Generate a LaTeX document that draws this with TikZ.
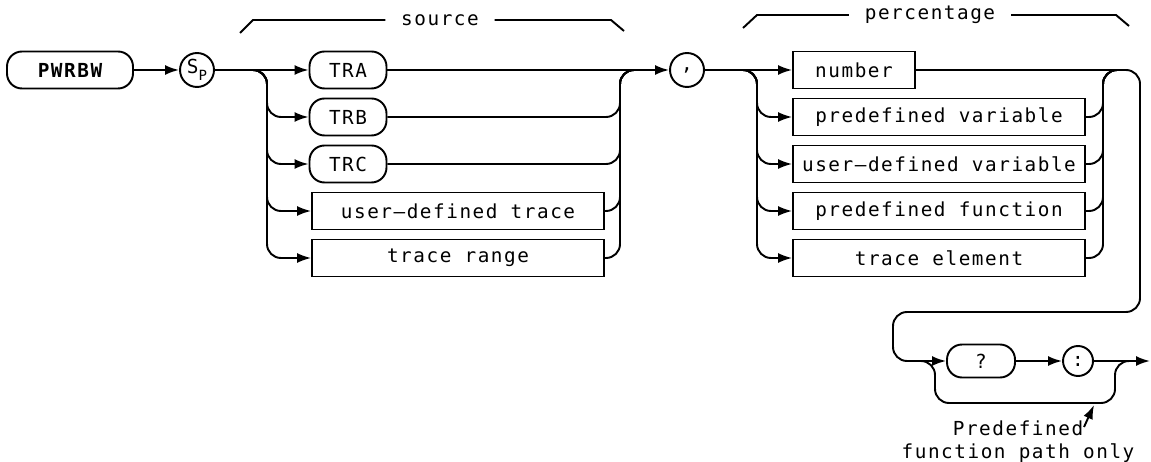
\documentclass[tikz,border=0pt]{standalone}
\usepackage{fontspec}
\setmainfont{DejaVu Sans Mono}[LetterSpace=8]
\usetikzlibrary{arrows.meta}

\begin{document}
\begin{tikzpicture}[x=0.02cm,y=-0.02cm,line width=1.1pt,
  font=\fontsize{11}{13}\selectfont,
  rbox/.style={draw,rounded corners=0.3cm,minimum height=0.74cm,inner sep=0pt},
  sbox/.style={draw,minimum height=0.74cm,inner sep=0pt},
  circ/.style={draw,circle,minimum size=0.68cm,inner sep=0pt},
  arr/.style={-{Latex[length=2.8mm,width=2mm]}},
  rail/.style={rounded corners=0.28cm},
  lbl/.style={inner xsep=0.3cm,inner ysep=0pt}]
\useasboundingbox (0,0) rectangle (1151,462);

\node[rbox,minimum width=2.52cm,font=\fontsize{11}{13}\selectfont\bfseries] (pwrbw) at (70,70) {PWRBW};
\node[circ] (sp) at (197,70) {S\raisebox{-0.6ex}{\footnotesize P}};
\node[rbox,minimum width=1.54cm] (tra) at (348,70) {TRA};
\node[rbox,minimum width=1.54cm] (trb) at (348,117) {TRB};
\node[rbox,minimum width=1.54cm] (trc) at (348,164) {TRC};
\node[sbox,minimum width=5.84cm] (udtrace) at (458,211) {user--defined trace};
\node[sbox,minimum width=5.84cm] (trrange) at (458,258) {trace range};
\node[circ] (comma) at (687,70) {,};
\node[sbox,minimum width=2.44cm] (number) at (854,70) {number};
\node[sbox,minimum width=5.84cm] (predvar) at (939,117) {predefined variable};
\node[sbox,minimum width=5.84cm] (uservar) at (939,164) {user--defined variable};
\node[sbox,minimum width=5.84cm] (predfn) at (939,211) {predefined function};
\node[sbox,minimum width=5.84cm] (trelem) at (939,258) {trace element};
\node[rbox,minimum width=1.36cm,minimum height=0.66cm] (query) at (981,361) {?};
\node[circ,minimum size=0.6cm] (colon) at (1078,361) {:};

\coordinate (srcrail) at (267,70);
\coordinate (srcjoin) at (620,70);
\coordinate (pctrail) at (757,70);
\coordinate (pctjoin) at (1103,70);
\coordinate (loopright) at (1140,312);
\coordinate (loopleft) at (893,361);
\coordinate (skipfrom) at (908,361);
\coordinate (skipdown) at (935,403);
\coordinate (skipup) at (1115,361);
\coordinate (exit) at (1150,361);

\draw[arr] (pwrbw) -- (sp);
\draw[arr] (sp) -- (tra);
\foreach \n in {trb,trc,udtrace,trrange}
  \draw[arr,rail] (sp.east) -| (srcrail |- \n.west) -- (\n.west);
\foreach \n in {trb,trc,udtrace,trrange}
  \draw[rail] (\n.east) -| (srcjoin) -- ++(20,0);
\draw[arr] (tra) -- (comma);

\draw[arr] (comma) -- (number);
\foreach \n in {predvar,uservar,predfn,trelem}
  \draw[arr,rail] (comma.east) -| (pctrail |- \n.west) -- (\n.west);
\foreach \n in {predvar,uservar,predfn,trelem}
  \draw[rail] (\n.east) -| (pctjoin) -- ++(20,0);

\draw[arr,rail] (number.east) -| (loopright) -| (loopleft) -- (query.west);
\draw[arr] (query) -- (colon);
\draw[arr] (colon) -- (exit);
\draw[rail] (skipfrom) -| (skipdown) -| (skipup) -- ++(14,0);

\node[lbl] (srclabel) at (440,20) {source};
\draw (240,33) -- (253,20) -- (srclabel.west);
\draw (srclabel.east) -- (611,20) -- (624,31);
\node[lbl] (pctlabel) at (930,15) {percentage};
\draw (743,28) -- (757,15) -- (pctlabel.west);
\draw (pctlabel.east) -- (1116,15) -- (1129,26);

\node[align=center] (note) at (1018,442) {Predefined\\function path only};
\coordinate (notetail) at (1084,427);
\coordinate (notetip) at (1094,405);
\draw[arr] (notetail) -- (notetip);
\end{tikzpicture}
\end{document}
